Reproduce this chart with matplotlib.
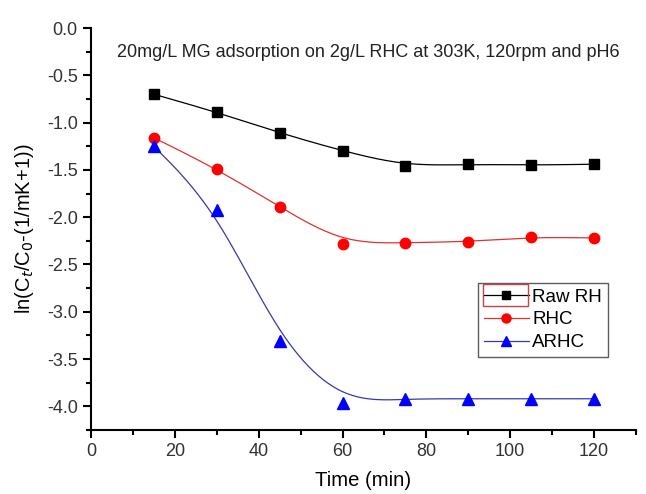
import numpy as np
import matplotlib as mpl
mpl.use('Agg')
import matplotlib.pyplot as plt
from matplotlib.patches import Rectangle

plt.rcParams['font.family'] = ['Liberation Sans', 'DejaVu Sans']

# data
time = [15, 30, 45, 60, 75, 90, 105, 120]
raw_rh = [-0.70, -0.89, -1.11, -1.30, -1.46, -1.44, -1.45, -1.44]
rhc = [-1.16, -1.49, -1.89, -2.28, -2.27, -2.26, -2.21, -2.22]
arhc = [-1.25, -1.92, -3.31, -3.96, -3.92, -3.92, -3.92, -3.92]


# Origin-style B-spline: data points act as control points (clamped ends)
def bspline(x, y, n=40):
    px = np.r_[x[0], x[0], x, x[-1], x[-1]]
    py = np.r_[y[0], y[0], y, y[-1], y[-1]]
    t = np.linspace(0, 1, n)
    b0 = (1 - t) ** 3 / 6
    b1 = (3 * t ** 3 - 6 * t ** 2 + 4) / 6
    b2 = (-3 * t ** 3 + 3 * t ** 2 + 3 * t + 1) / 6
    b3 = t ** 3 / 6
    xs, ys = [], []
    for i in range(len(px) - 3):
        xs.append(b0 * px[i] + b1 * px[i + 1] + b2 * px[i + 2] + b3 * px[i + 3])
        ys.append(b0 * py[i] + b1 * py[i + 1] + b2 * py[i + 2] + b3 * py[i + 3])
    return np.concatenate(xs), np.concatenate(ys)


fig = plt.figure(figsize=(6.46, 4.94), dpi=100)
ax = fig.add_axes([0.1409, 0.1296, 0.8436, 0.8137])

series = [
    (raw_rh, 'Raw RH', 'k', 'k', 's', 7),
    (rhc, 'RHC', '#e03030', 'r', 'o', 7.5),
    (arhc, 'ARHC', '#3838b0', 'b', '^', 8),
]
for y, lab, lc, mc, mk, ms in series:
    sx, sy = bspline(np.array(time, float), np.array(y, float))
    ax.plot(sx, sy, color=lc, lw=0.9, zorder=2)
    ax.plot(time, y, linestyle='none', marker=mk, color=mc, ms=ms, zorder=3)
    # legend proxy
    ax.plot([], [], color=lc, lw=0.9, marker=mk, mfc=mc, mec=mc, ms=ms - 1, label=lab)

ax.set_xlim(0, 130)
ax.set_ylim(-4.25, 0)
ax.set_xticks(np.arange(0, 121, 20))
ax.set_xticks(np.arange(10, 131, 20), minor=True)
ax.set_yticks(np.arange(-4.0, 0.01, 0.5))
ax.set_yticks(np.arange(-4.25, 0.01, 0.25), minor=True)
ax.set_yticklabels(['%.1f' % v for v in np.arange(-4.0, 0.01, 0.5)])

for s in ['top', 'right']:
    ax.spines[s].set_visible(False)
for s in ['left', 'bottom']:
    ax.spines[s].set_linewidth(1.5)
ax.tick_params(which='major', length=6, width=1.5, labelsize=13, labelcolor='#333333')
ax.tick_params(which='minor', length=3.5, width=1.5)

ax.set_xlabel('Time (min)', fontsize=14.6, labelpad=8)
ax.set_ylabel('ln(C$_t$/C$_0$-(1/mK+1))', fontsize=14.5, labelpad=8)

ax.text(0.508, 0.938, '20mg/L MG adsorption on 2g/L RHC at 303K, 120rpm and pH6',
        transform=ax.transAxes, ha='center', va='center', fontsize=13, color='#222222')

leg = ax.legend(loc='upper left', bbox_to_anchor=(0.71, 0.366), fontsize=13.5,
                frameon=True, fancybox=False, edgecolor='#333333', handlelength=2.4,
                handletextpad=0.2, labelspacing=0.3, borderpad=0.3, borderaxespad=0)
leg.get_frame().set_linewidth(1.0)

# red selection box around first legend entry (as in the original export)
ax.add_patch(Rectangle((0.719, 0.308), 0.083, 0.055, transform=ax.transAxes,
                       fill=False, edgecolor='#d04040', lw=1.0, zorder=10))

plt.savefig('out.png', dpi=100)
